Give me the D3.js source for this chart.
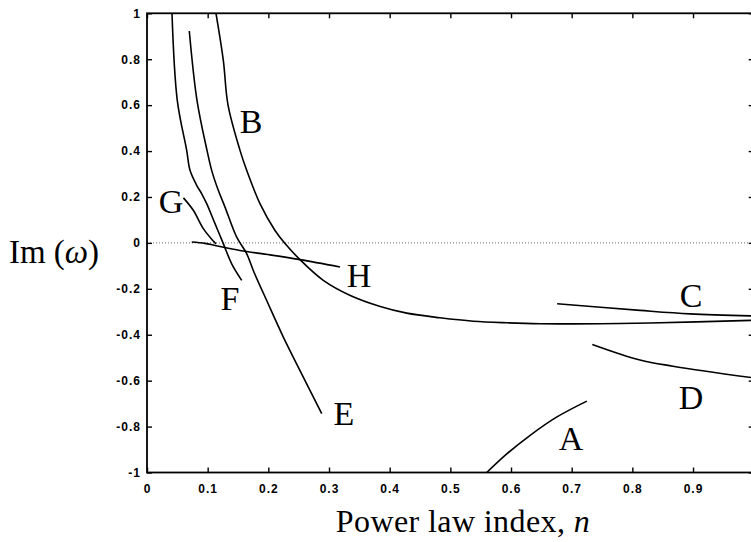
<!DOCTYPE html>
<html>
<head>
<meta charset="utf-8">
<script src="https://cdn.jsdelivr.net/npm/d3@7"></script>
<style>
  html, body { margin: 0; padding: 0; background: #fff; }
  svg { display: block; }
</style>
</head>
<body>
<svg id="chart" width="751" height="542"></svg>
<script>
// Growth rate Im(ω) of each branch against power law index n.
const xTicks = [0, 0.1, 0.2, 0.3, 0.4, 0.5, 0.6, 0.7, 0.8, 0.9];
const xTickLabels = ["0", "0.1", "0.2", "0.3", "0.4", "0.5", "0.6", "0.7", "0.8", "0.9"];
const yTicks = [1, 0.8, 0.6, 0.4, 0.2, 0, -0.2, -0.4, -0.6, -0.8, -1];
const yTickLabels = ["1", "0.8", "0.6", "0.4", "0.2", "0", "-0.2", "-0.4", "-0.6", "-0.8", "-1"];

// Branch curves as [n, Im(ω)] pairs
const branchA = [[0.560, -1.0], [0.593, -0.919], [0.631, -0.839], [0.675, -0.759], [0.725, -0.689]];
const branchB = [[0.1137, 1.0], [0.1258, 0.795], [0.1335, 0.601], [0.1533, 0.403], [0.1643, 0.316],
                 [0.1862, 0.171], [0.211, 0.054], [0.2275, -0.003], [0.2522, -0.073], [0.2906, -0.163],
                 [0.3351, -0.229], [0.3845, -0.277], [0.4281, -0.306], [0.483, -0.326], [0.5378, -0.341],
                 [0.5929, -0.348], [0.6478, -0.352], [0.747, -0.352], [0.829, -0.349], [1.0, -0.337]];
const branchC = [[0.676, -0.265], [0.8126, -0.294], [0.895, -0.309], [1.0, -0.318]];
const branchD = [[0.734, -0.442], [0.8126, -0.510], [0.867, -0.537], [1.0, -0.588]];
const branchE = [[0.0697, 0.923], [0.0824, 0.621], [0.0989, 0.403], [0.1066, 0.316], [0.1175, 0.229],
                 [0.1286, 0.156], [0.1479, 0.025], [0.1643, -0.047], [0.1752, -0.12], [0.1973, -0.251],
                 [0.2247, -0.41], [0.2522, -0.556], [0.288, -0.744]];
const branchF = [[0.0412, 1.0], [0.0499, 0.621], [0.0654, 0.403], [0.0709, 0.316], [0.0819, 0.251],
                 [0.0902, 0.214], [0.0984, 0.171], [0.1121, 0.084], [0.1258, -0.003], [0.1396, -0.091],
                 [0.1561, -0.163]];
const branchG = [[0.060, 0.196], [0.0763, 0.142], [0.0928, 0.062], [0.1093, 0.008], [0.1137, -0.004]];
const branchH = [[0.0737, 0.004], [0.0956, -0.002], [0.1121, -0.011], [0.1533, -0.033], [0.2027, -0.052],
                 [0.2522, -0.073], [0.3181, -0.105]];

const branchNames = ["A", "B", "C", "D", "E", "F", "G", "H"];
const branchData = [branchA, branchB, branchC, branchD, branchE, branchF, branchG, branchH];
// Where each branch name sits, in [n, Im(ω)] units (centre, baseline)
const labelAnchors = [[0.699, -0.904], [0.1714, 0.477], [0.8967, -0.281], [0.8967, -0.722],
                      [0.3247, -0.791], [0.1368, -0.294], [0.0396, 0.1285], [0.3494, -0.194]];

const svg = d3.select("#chart");
const x = d3.scaleLinear().domain([0, 1]).range([147, 753.7]);
const y = d3.scaleLinear().domain([-1, 1]).range([472.5, 13.3]);

const tickFont = "'Liberation Sans', Arial, sans-serif";
const serif = "'Liberation Serif', 'Times New Roman', serif";

// zero reference line
svg.append("line")
  .attr("x1", x(0)).attr("x2", x(1))
  .attr("y1", y(0)).attr("y2", y(0))
  .attr("stroke", "#666").attr("stroke-width", 1)
  .attr("stroke-dasharray", "1,2");

// curves
const line = d3.line()
  .x(d => x(d[0])).y(d => y(d[1]))
  .curve(d3.curveCatmullRom.alpha(0.5));

svg.append("g").selectAll("path")
  .data(branchData)
  .join("path")
  .attr("d", line)
  .attr("fill", "none")
  .attr("stroke", "#000")
  .attr("stroke-width", 1.6);

// axes with inward ticks
function styleAxis(g, showLabels) {
  g.select(".domain").remove();
  g.selectAll(".tick line").attr("stroke", "#000").attr("stroke-width", 1.4);
  g.selectAll(".tick text")
    .attr("fill", "#000")
    .style("font-family", tickFont)
    .style("font-weight", "bold")
    .style("font-size", "12px")
    .style("letter-spacing", "1px");
  if (!showLabels) g.selectAll(".tick text").remove();
}

svg.append("g")
  .attr("transform", `translate(0,${y(-1)})`)
  .call(d3.axisBottom(x).tickValues(xTicks).tickSize(-5).tickPadding(12)
    .tickFormat((d, i) => xTickLabels[i]))
  .call(g => styleAxis(g, true));

svg.append("g")
  .attr("transform", `translate(0,${y(1)})`)
  .call(d3.axisTop(x).tickValues(xTicks).tickSize(-5))
  .call(g => styleAxis(g, false));

svg.append("g")
  .attr("transform", `translate(${x(0)},0)`)
  .call(d3.axisLeft(y).tickValues(yTicks).tickSize(-5).tickPadding(6)
    .tickFormat((d, i) => yTickLabels[i]))
  .call(g => styleAxis(g, true));

svg.append("g")
  .attr("transform", `translate(${x(1)},0)`)
  .call(d3.axisRight(y).tickValues(yTicks).tickSize(-5))
  .call(g => styleAxis(g, false));

// frame
svg.append("rect")
  .attr("x", x(0)).attr("y", y(1))
  .attr("width", x(1) - x(0)).attr("height", y(-1) - y(1))
  .attr("fill", "none").attr("stroke", "#000").attr("stroke-width", 1.8);

// branch names
svg.append("g").selectAll("text")
  .data(branchNames)
  .join("text")
  .attr("x", (d, i) => x(labelAnchors[i][0]))
  .attr("y", (d, i) => y(labelAnchors[i][1]))
  .attr("text-anchor", "middle")
  .style("font-family", serif)
  .style("font-size", "34px")
  .text(d => d);

// axis titles
const xTitle = svg.append("text")
  .attr("x", 463).attr("y", 532)
  .attr("text-anchor", "middle")
  .style("font-family", serif)
  .style("font-size", "32px")
  .style("letter-spacing", "0.4px");
xTitle.append("tspan").text("Power law index, ");
xTitle.append("tspan").style("font-style", "italic").text("n");

const yTitle = svg.append("text")
  .attr("x", 54).attr("y", 263)
  .attr("text-anchor", "middle")
  .style("font-family", serif)
  .style("font-size", "33px");
yTitle.append("tspan").text("Im (");
yTitle.append("tspan").style("font-style", "italic").text("ω");
yTitle.append("tspan").text(")");
</script>
</body>
</html>
